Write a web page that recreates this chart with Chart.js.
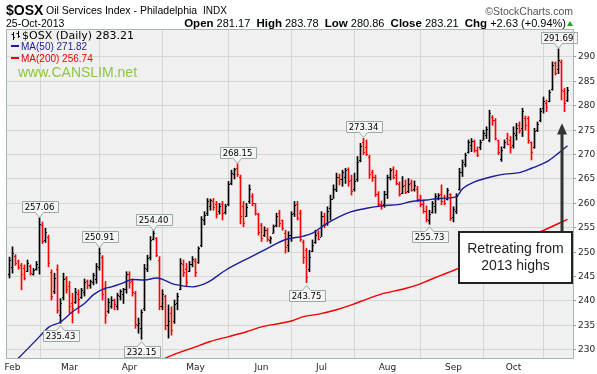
<!DOCTYPE html>
<html>
<head>
<meta charset="utf-8">
<script src="https://cdn.jsdelivr.net/npm/chart.js@4.4.1/dist/chart.umd.min.js"></script>
<style>
html, body { margin: 0; padding: 0; background: #fff; }
#wrap { position: relative; width: 597px; height: 374px; overflow: hidden; font-family: "Liberation Sans", Arial, sans-serif; color: #000; }
#plot1 { position: absolute; left: 0; top: 0; }
.t { position: absolute; white-space: nowrap; line-height: 1; }
.t b { font-size: 11.5px; }
.dash { display: inline-block; width: 8px; height: 2px; vertical-align: middle; margin-right: 2px; position: relative; top: -1px; }
</style>
</head>
<body>
<div id="wrap">
    <canvas id="plot1" width="597" height="374"></canvas>

    <div class="t" style="left:6px;top:3px;font-weight:bold;font-size:14px">$OSX</div>
    <div class="t" style="left:46px;top:5px;font-size:10.5px">Oil Services Index - Philadelphia</div>
    <div class="t" style="left:203px;top:5.5px;font-size:10px">INDX</div>
    <div class="t" style="right:24px;top:6px;font-size:10.5px;color:#555">&copy;StockCharts.com</div>
    <div class="t" style="left:6px;top:18px;font-size:10.5px">25-Oct-2013</div>
    <div class="t" style="right:31px;top:17.5px;font-size:11px"><b>Open</b> 281.17 &nbsp;<b>High</b> 283.78 &nbsp;<b>Low</b> 280.86 &nbsp;<b>Close</b> 283.21 &nbsp;<b>Chg</b> +2.63 (+0.94%)</div>
    <div style="position:absolute;left:567px;top:21px;width:0;height:0;border-left:3.5px solid transparent;border-right:3.5px solid transparent;border-bottom:5px solid #1fa51f"></div>

    <svg style="position:absolute;left:11px;top:31px" width="10" height="10">
        <path d="M2.5 1 V9 M0.5 3.5 H2.5 M2.5 6.5 H4 M7.5 0 V7 M5.5 2.5 H7.5 M7.5 5.5 H9" stroke="#000" stroke-width="1" fill="none"/>
    </svg>
    <div class="t" style="left:22px;top:30px;font-family:'DejaVu Sans';font-size:11px">$OSX (Daily) 283.21</div>
    <div class="t" style="left:11px;top:42px;font-size:10px;color:#1c1c9c"><span class="dash" style="background:#1c1c9c"></span>MA(50) 271.82</div>
    <div class="t" style="left:11px;top:54px;font-size:10px;color:#f00000"><span class="dash" style="background:#f00000"></span>MA(200) 256.74</div>
    <div class="t" style="left:18px;top:65px;font-size:14px;color:#8cc63f">www.CANSLIM.net</div>
</div>

<script>
// trading days: 0 = 31-Jan-2013 ... 186 = 25-Oct-2013
const monthStart = [1, 20, 40, 62, 84, 104, 126, 148, 168];
const monthLabels = ["Feb", "Mar", "Apr", "May", "Jun", "Jul", "Aug", "Sep", "Oct"];
const yTicks = [230, 235, 240, 245, 250, 255, 260, 265, 270, 275, 280, 285, 290];

const opens = [
    245.5, 247.0, 249.2, 248.2, 247.3, 246.8, 246.2, 247.2, 245.5, 246.5,
    247.0, 255.6, 252.6, 253.2, 246.0, 242.0, 246.5, 237.2, 240.8, 244.8,
    243.0, 239.5, 239.8, 241.5, 240.8, 241.8, 244.0, 243.2, 243.8, 244.5,
    247.0, 249.0, 242.5, 238.0, 239.0, 240.2, 239.0, 241.0, 241.5, 242.5,
    245.6, 244.0, 241.6, 235.0, 234.5, 238.5, 246.5, 249.0, 252.8, 253.0,
    248.5, 239.0, 241.0, 235.0, 237.5, 236.0, 239.5, 242.5, 247.5, 246.5,
    246.2, 247.5, 248.2, 248.0, 251.5, 256.5, 258.0, 259.5, 260.5, 259.8,
    258.5, 259.8, 258.2, 259.8, 264.2, 266.0, 267.2, 265.5, 259.5, 257.5,
    260.5, 261.5, 260.0, 257.8, 255.5, 253.5, 254.5, 252.5, 254.0, 255.5,
    258.0, 256.5, 254.0, 251.5, 253.5, 258.0, 259.8, 258.0, 252.0, 250.5,
    246.5, 250.2, 252.0, 254.0, 253.2, 257.5, 256.0, 259.0, 261.0, 263.0,
    265.5, 265.0, 265.5, 267.0, 264.8, 263.0, 265.0, 268.8, 272.5, 271.5,
    269.5, 266.5, 265.5, 262.0, 259.8, 259.8, 262.0, 265.5, 267.0, 265.8,
    264.0, 262.2, 263.8, 262.5, 264.2, 263.0, 263.0, 261.0, 259.8, 258.5,
    256.5, 258.3, 259.5, 261.2, 262.0, 261.2, 260.8, 262.0, 257.2, 258.5,
    263.0, 266.5, 268.0, 270.5, 272.0, 272.8, 271.0, 271.5, 273.0, 274.0,
    273.0, 277.8, 277.0, 273.0, 269.0, 271.5, 273.5, 273.0, 272.0, 274.0,
    276.0, 275.5, 277.5, 277.5, 272.5, 271.5, 275.0, 277.0, 279.5, 280.5,
    281.0, 283.5, 288.8, 287.5, 289.0, 283.0, 281.17
];
const highs = [
    249.0, 251.1, 249.5, 248.4, 247.7, 247.4, 248.4, 247.4, 246.7, 248.1,
    257.06, 256.2, 254.9, 253.5, 246.4, 245.7, 247.4, 240.5, 245.7, 245.0,
    244.0, 241.6, 242.6, 242.3, 242.6, 244.5, 244.3, 244.3, 245.7, 247.7,
    250.91, 249.3, 244.0, 240.5, 240.9, 240.4, 241.6, 242.3, 242.6, 246.0,
    246.0, 244.5, 242.0, 236.5, 238.2, 247.5, 249.4, 253.2, 254.40, 253.0,
    249.1, 242.3, 241.2, 239.2, 238.8, 240.2, 241.6, 248.7, 248.4, 247.7,
    248.1, 249.1, 248.7, 251.1, 257.3, 258.3, 261.0, 260.9, 261.0, 260.4,
    260.0, 260.4, 259.8, 264.5, 266.8, 267.2, 268.15, 265.8, 260.4, 260.0,
    263.8, 262.0, 260.0, 258.0, 255.9, 255.2, 254.9, 253.2, 255.6, 258.0,
    258.6, 256.6, 254.5, 254.2, 258.3, 260.4, 260.4, 258.6, 252.5, 250.8,
    250.4, 252.5, 254.5, 254.4, 258.3, 258.0, 259.3, 261.7, 263.8, 266.2,
    266.0, 266.8, 267.2, 267.3, 265.8, 266.2, 269.6, 272.3, 273.34, 273.0,
    269.9, 266.8, 265.8, 262.4, 260.5, 262.5, 265.8, 267.2, 267.5, 266.8,
    264.4, 265.5, 264.8, 265.1, 264.8, 264.6, 263.5, 261.7, 260.7, 259.5,
    258.6, 260.4, 262.0, 262.0, 263.8, 261.7, 263.1, 262.0, 259.3, 262.0,
    267.2, 268.9, 270.3, 273.0, 273.3, 273.0, 271.6, 273.0, 275.0, 275.7,
    279.1, 278.0, 277.4, 273.0, 271.6, 273.0, 274.4, 273.7, 275.7, 276.4,
    276.7, 279.5, 277.9, 277.8, 272.6, 275.4, 276.7, 279.5, 281.8, 281.2,
    283.2, 289.0, 289.0, 291.69, 289.4, 283.6, 283.78
];
const lows = [
    244.7, 245.7, 247.3, 246.5, 242.3, 244.3, 246.0, 245.3, 245.3, 246.3,
    245.5, 251.8, 252.0, 247.0, 240.2, 241.5, 237.5, 235.43, 240.2, 241.6,
    237.5, 235.5, 239.5, 237.5, 240.5, 241.0, 242.5, 242.6, 243.3, 243.6,
    246.3, 240.2, 235.4, 237.5, 238.5, 238.2, 238.2, 240.2, 239.5, 241.6,
    242.6, 241.0, 234.4, 233.4, 232.15, 238.0, 246.0, 248.4, 252.5, 249.1,
    238.2, 238.2, 234.1, 232.4, 233.0, 235.4, 238.2, 242.3, 245.0, 242.9,
    246.0, 247.0, 245.0, 247.7, 251.1, 255.6, 257.5, 258.6, 258.6, 257.0,
    257.8, 256.6, 257.8, 259.5, 263.8, 265.0, 265.5, 255.8, 255.2, 257.3,
    260.0, 259.5, 257.6, 253.5, 252.2, 253.2, 252.2, 251.8, 253.9, 255.2,
    255.2, 254.5, 249.8, 250.1, 252.2, 257.3, 256.6, 252.2, 247.7, 243.75,
    246.0, 250.1, 251.8, 252.5, 253.2, 255.0, 255.5, 256.6, 261.0, 262.4,
    263.8, 263.5, 264.1, 263.5, 261.7, 262.5, 264.5, 268.5, 270.0, 269.8,
    265.1, 264.5, 261.4, 259.3, 258.8, 259.2, 261.0, 264.8, 265.0, 263.8,
    261.5, 262.0, 262.0, 262.2, 262.5, 262.5, 260.4, 259.3, 258.0, 256.2,
    255.73, 258.0, 258.0, 260.7, 259.7, 259.7, 260.7, 256.5, 256.2, 257.9,
    262.7, 265.5, 267.5, 270.3, 270.6, 270.5, 269.6, 271.0, 273.0, 273.3,
    272.6, 276.0, 273.0, 270.0, 268.6, 271.3, 272.0, 270.3, 271.3, 273.0,
    274.4, 273.7, 275.0, 272.3, 268.9, 271.3, 274.7, 276.7, 278.5, 278.8,
    280.8, 283.2, 286.3, 286.6, 281.2, 278.8, 280.86
];
const closes = [
    248.3, 249.8, 247.8, 247.0, 245.5, 244.8, 247.8, 245.8, 246.3, 247.6,
    255.8, 252.3, 254.2, 247.8, 241.0, 244.7, 238.2, 239.5, 244.6, 242.5,
    239.0, 238.5, 241.8, 240.5, 242.3, 243.8, 243.2, 244.0, 245.3, 247.2,
    249.8, 241.5, 237.2, 239.8, 240.3, 239.4, 241.2, 242.0, 242.4, 245.5,
    243.8, 241.8, 235.3, 235.5, 237.8, 246.8, 248.8, 252.5, 253.9, 249.5,
    239.0, 241.5, 235.0, 236.0, 234.0, 239.3, 241.0, 247.8, 246.0, 243.8,
    247.5, 248.6, 246.0, 250.8, 256.8, 257.6, 260.4, 260.6, 259.2, 257.8,
    259.5, 258.0, 259.5, 264.0, 266.3, 267.0, 266.0, 257.5, 256.0, 259.3,
    263.0, 260.0, 258.0, 254.2, 253.0, 254.5, 252.8, 253.0, 255.3, 257.5,
    256.0, 255.0, 251.0, 253.5, 257.8, 259.6, 257.0, 252.8, 249.0, 245.0,
    249.0, 251.5, 253.5, 252.8, 257.5, 255.5, 258.5, 261.0, 263.0, 265.5,
    265.0, 266.5, 266.8, 264.5, 262.5, 264.5, 268.5, 271.8, 270.5, 270.2,
    266.0, 265.5, 262.0, 259.8, 259.5, 262.0, 265.5, 266.8, 265.5, 264.2,
    262.0, 263.5, 262.4, 264.0, 262.8, 263.8, 260.8, 259.8, 258.5, 256.8,
    257.8, 260.0, 261.5, 261.8, 260.5, 260.0, 262.8, 257.0, 258.8, 261.5,
    266.5, 268.5, 270.0, 272.5, 272.8, 271.0, 270.0, 272.5, 274.5, 275.2,
    278.5, 277.0, 273.5, 270.5, 271.0, 272.5, 272.2, 271.5, 274.5, 275.5,
    275.0, 279.0, 276.0, 273.0, 270.5, 274.8, 276.3, 279.0, 281.0, 279.8,
    282.8, 288.3, 286.8, 289.3, 283.3, 280.58, 283.21
];

// moving averages at these days
const ma50Days = [0, 3, 10, 13, 17, 21, 25, 28, 31, 34, 37, 41, 45, 49, 55, 61, 66, 72, 80, 86, 92, 98, 101, 105, 110, 114, 119, 124, 130, 134, 139, 143, 149, 151, 155, 161, 165, 170, 174, 179, 183, 186];
const ma50 = [226.5, 228.3, 232.7, 234.6, 235.7, 237.8, 239.5, 241.3, 242.4, 242.9, 243.5, 244.4, 244.3, 244.7, 243.4, 242.9, 243.8, 246.3, 248.9, 250.8, 252.6, 253.3, 253.9, 255.6, 257.3, 258.3, 259.0, 259.5, 259.8, 260.4, 260.7, 261.0, 261.4, 263.0, 264.4, 265.5, 266.0, 266.3, 267.2, 268.5, 270.3, 271.82];
const ma200Days = [50, 56, 62, 67, 73, 79, 84, 90, 94, 98, 103, 109, 114, 120, 125, 131, 136, 140, 144, 150, 160, 170, 177, 186];
const ma200 = [227.8, 229.3, 230.6, 231.7, 232.7, 233.7, 234.7, 235.4, 235.9, 236.8, 237.3, 238.2, 239.2, 240.6, 241.6, 242.4, 243.3, 244.3, 245.3, 246.8, 249.8, 252.5, 254.2, 256.74];

// value tags
const highTags = [10, 30, 48, 76, 118, 183];
const lowTags = [17, 44, 99, 140];

const barColors = closes.map((c, i) => (i > 0 && c < closes[i - 1]) ? "#ff0000" : "#000000");

function valueTag(ctx, x, yTip, text, above) {
    ctx.font = '8.5px "DejaVu Sans"';
    const w = Math.round(ctx.measureText(text).width) + 6;
    const h = 11;
    const cx = Math.floor(x) + 0.5;
    const left = Math.round(cx - w / 2) + 0.5;
    const tip = Math.round(yTip) + 0.5;
    ctx.beginPath();
    if (above) {
        const bot = tip - 5;
        const top = bot - h;
        ctx.moveTo(left, top);
        ctx.lineTo(left + w, top);
        ctx.lineTo(left + w, bot);
        ctx.lineTo(cx + 4, bot);
        ctx.lineTo(cx, tip);
        ctx.lineTo(cx - 4, bot);
        ctx.lineTo(left, bot);
    } else {
        const top = tip + 5;
        const bot = top + h;
        ctx.moveTo(left, top);
        ctx.lineTo(cx - 4, top);
        ctx.lineTo(cx, tip);
        ctx.lineTo(cx + 4, top);
        ctx.lineTo(left + w, top);
        ctx.lineTo(left + w, bot);
        ctx.lineTo(left, bot);
    }
    ctx.closePath();
    ctx.fillStyle = "#f4f5f4";
    ctx.fill();
    ctx.strokeStyle = "#9aaaa3";
    ctx.lineWidth = 1;
    ctx.stroke();
    ctx.fillStyle = "#000";
    ctx.textAlign = "center";
    ctx.textBaseline = "middle";
    const midY = above ? tip - 5 - h / 2 : tip + 5 + h / 2;
    ctx.fillText(text, cx, midY + 0.5);
}

const ohlcPlugin = {
    id: "ohlc",
    beforeDraw(chart) {
        const { ctx, chartArea: a } = chart;
        ctx.save();
        ctx.fillStyle = "#f0f0f0";
        ctx.fillRect(a.left, a.top, a.right - a.left, a.bottom - a.top);
        ctx.restore();
    },
    afterDatasetsDraw(chart) {
        const { ctx, scales: { x, y } } = chart;
        ctx.save();
        // open / close ticks
        for (let i = 0; i < closes.length; i++) {
            const px = Math.floor(x.getPixelForValue(i));
            ctx.fillStyle = barColors[i];
            ctx.fillRect(px - 1, Math.round(y.getPixelForValue(opens[i])), 1, 1);
            ctx.fillRect(px + 1, Math.round(y.getPixelForValue(closes[i])), 1, 1);
        }
        highTags.forEach(i => valueTag(ctx, x.getPixelForValue(i), y.getPixelForValue(highs[i]) - 1, highs[i].toFixed(2), true));
        lowTags.forEach(i => valueTag(ctx, x.getPixelForValue(i), y.getPixelForValue(lows[i]) + 2, lows[i].toFixed(2), false));

        // callout
        const bl = Math.round(x.getPixelForValue(149.8)), br = Math.round(x.getPixelForValue(187.5));
        const bt = Math.round(y.getPixelForValue(254.1)), bb = Math.round(y.getPixelForValue(243.7));
        const ax = Math.round(x.getPixelForValue(184.2));
        const tipY = y.getPixelForValue(276.4), baseY = y.getPixelForValue(274.2);
        ctx.strokeStyle = "#333";
        ctx.lineWidth = 3;
        ctx.beginPath();
        ctx.moveTo(ax, bt);
        ctx.lineTo(ax, baseY);
        ctx.stroke();
        ctx.fillStyle = "#333";
        ctx.beginPath();
        ctx.moveTo(ax, tipY);
        ctx.lineTo(ax + 5, baseY + 0.5);
        ctx.lineTo(ax - 5, baseY + 0.5);
        ctx.closePath();
        ctx.fill();
        ctx.fillStyle = "#fff";
        ctx.fillRect(bl, bt, br - bl, bb - bt);
        ctx.strokeStyle = "#222";
        ctx.lineWidth = 2;
        ctx.strokeRect(bl, bt, br - bl, bb - bt);
        ctx.fillStyle = "#222";
        ctx.font = '14px "Liberation Sans"';
        ctx.textAlign = "center";
        ctx.textBaseline = "middle";
        const mid = (bl + br) / 2;
        ctx.fillText("Retreating from", mid, bt + 17);
        ctx.fillText("2013 highs", mid, bt + 34);
        ctx.restore();
    },
    afterDraw(chart) {
        const { ctx, chartArea: a } = chart;
        ctx.save();
        ctx.strokeStyle = "#a9b5af";
        ctx.lineWidth = 1;
        ctx.strokeRect(a.left - 0.5, a.top - 0.5, a.right - a.left + 1, a.bottom - a.top + 1);
        ctx.restore();
    }
};

Chart.defaults.font.family = "DejaVu Sans";
Chart.defaults.color = "#222";

const context = document.getElementById("plot1");
const chart = new Chart(context, {
    type: "line",
    data: {
        datasets: [
            {
                label: "MA(50)",
                data: ma50Days.map((d, k) => ({ x: d, y: ma50[k] })),
                borderColor: "#1c1c9c",
                borderWidth: 1.4,
                pointRadius: 0,
                cubicInterpolationMode: "monotone"
            },
            {
                label: "MA(200)",
                data: ma200Days.map((d, k) => ({ x: d, y: ma200[k] })),
                borderColor: "#f00000",
                borderWidth: 1.4,
                pointRadius: 0,
                cubicInterpolationMode: "monotone"
            },
            {
                type: "bar",
                label: "$OSX",
                data: highs.map((h, i) => ({ x: i, y: [lows[i], h] })),
                backgroundColor: barColors,
                borderWidth: 0,
                barThickness: 1,
                grouped: false
            }
        ]
    },
    options: {
        responsive: false,
        devicePixelRatio: 1,
        animation: false,
        layout: { padding: { left: 7, top: 30, right: 0, bottom: 0 } },
        plugins: { legend: { display: false }, tooltip: { enabled: false } },
        scales: {
            x: {
                type: "linear",
                offset: false,
                min: -0.8333,
                max: 187.8333,
                border: { display: false },
                grid: { color: "#d6d6d6", drawTicks: false },
                ticks: {
                    autoSkip: false,
                    maxRotation: 0,
                    padding: 4,
                    font: { size: 9 },
                    callback: (v, i) => monthLabels[i]
                },
                afterBuildTicks: s => { s.ticks = monthStart.map(v => ({ value: v })); },
                afterFit: s => { s.height = 16; }
            },
            y: {
                type: "linear",
                position: "right",
                min: 228.32,
                max: 295.53,
                border: { display: false },
                grid: { color: "#d6d6d6", tickLength: 3, tickColor: "#999" },
                ticks: { padding: 2, font: { size: 9 } },
                afterBuildTicks: s => { s.ticks = yTicks.map(v => ({ value: v })); },
                afterFit: s => { s.width = 24; }
            }
        }
    },
    plugins: [ohlcPlugin]
});
</script>
</body>
</html>
